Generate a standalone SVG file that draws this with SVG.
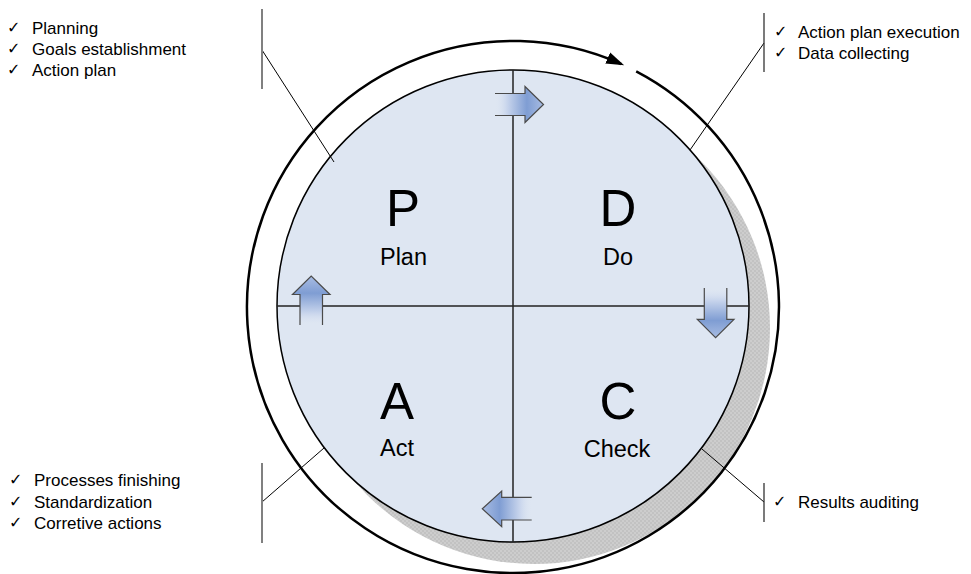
<svg xmlns="http://www.w3.org/2000/svg" width="971" height="574" viewBox="0 0 971 574">
<style>
.lbl{font-family:"Liberation Sans",Arial,sans-serif;font-size:17px;fill:#000}
.chk{font-family:"DejaVu Sans",sans-serif;font-size:16px;fill:#000}
.big{font-family:"Liberation Sans",Arial,sans-serif;font-size:51px;fill:#000;text-anchor:middle}
.sub{font-family:"Liberation Sans",Arial,sans-serif;font-size:23.5px;fill:#000;text-anchor:middle}
.cross{stroke:#222;stroke-width:1.5;fill:none}
.lead{stroke:#000;stroke-width:1;fill:none}
.barL{stroke:#808080;stroke-width:2;fill:none}
.barR{stroke:#333;stroke-width:1.3;fill:none}
.aout{stroke:#4a4a4a;stroke-width:1.2;fill:none;stroke-linejoin:miter}
</style>
<defs>
<pattern id="chkpat" width="4" height="4" patternUnits="userSpaceOnUse">
<rect width="4" height="4" fill="#cdcdcd"/>
<rect width="2" height="2" fill="#c2c2c2"/>
<rect x="2" y="2" width="2" height="2" fill="#c2c2c2"/>
</pattern>
<clipPath id="outerClip"><circle cx="513" cy="307" r="266"/></clipPath>
<linearGradient id="gR" x1="495" y1="0" x2="544" y2="0" gradientUnits="userSpaceOnUse">
<stop offset="0" stop-color="#dee6f2" stop-opacity="0"/>
<stop offset="0.25" stop-color="#c7d4ec"/>
<stop offset="0.65" stop-color="#7f9dd3"/>
<stop offset="1" stop-color="#a9bde3"/>
</linearGradient>
<linearGradient id="gU" x1="0" y1="325" x2="0" y2="276" gradientUnits="userSpaceOnUse">
<stop offset="0" stop-color="#dee6f2" stop-opacity="0"/>
<stop offset="0.25" stop-color="#c7d4ec"/>
<stop offset="0.65" stop-color="#7f9dd3"/>
<stop offset="1" stop-color="#a9bde3"/>
</linearGradient>
<linearGradient id="gD" x1="0" y1="288" x2="0" y2="338" gradientUnits="userSpaceOnUse">
<stop offset="0" stop-color="#dee6f2" stop-opacity="0"/>
<stop offset="0.25" stop-color="#c7d4ec"/>
<stop offset="0.65" stop-color="#7f9dd3"/>
<stop offset="1" stop-color="#a9bde3"/>
</linearGradient>
<linearGradient id="gL" x1="532" y1="0" x2="482" y2="0" gradientUnits="userSpaceOnUse">
<stop offset="0" stop-color="#dee6f2" stop-opacity="0"/>
<stop offset="0.25" stop-color="#c7d4ec"/>
<stop offset="0.65" stop-color="#7f9dd3"/>
<stop offset="1" stop-color="#a9bde3"/>
</linearGradient>
<marker id="ah" markerUnits="userSpaceOnUse" markerWidth="20" markerHeight="14" viewBox="0 0 20 14" refX="15" refY="7" orient="auto">
<path d="M0,1 L18,7 L0,13 Z" fill="#000"/>
</marker>
</defs>
<rect width="971" height="574" fill="#fff"/>

<g id="cycle">
<circle cx="534" cy="328" r="236" fill="url(#chkpat)" clip-path="url(#outerClip)"/>
<path d="M636.2,71.3 A266,266 0 0 1 466.8,569 A266,266 0 0 1 263,216 A266,266 0 0 1 621.4,64.1" fill="none" stroke="#000" stroke-width="2.5" marker-end="url(#ah)"/>
<circle cx="513" cy="306" r="236" fill="#dee6f2" stroke="#000" stroke-width="1.5"/>
</g>

<g id="connectors">
<line class="cross" x1="513" y1="70" x2="513" y2="542"/>
<line class="cross" x1="277" y1="306" x2="749" y2="306"/>
<line class="lead" x1="262" y1="50" x2="334" y2="162"/>
<line class="lead" x1="764" y1="43" x2="690" y2="150"/>
<line class="lead" x1="262" y1="502" x2="324" y2="448"/>
<line class="lead" x1="764" y1="502" x2="702" y2="449"/>
<line class="barL" x1="262" y1="9" x2="262" y2="89"/>
<line class="barR" x1="764" y1="13" x2="764" y2="72"/>
<line class="barL" x1="262" y1="463" x2="262" y2="543"/>
<line class="barR" x1="764" y1="483" x2="764" y2="522"/>
</g>

<g id="arrow-right">
<path d="M495,93.5 L525,93.5 L525,86.5 L543.5,104.5 L525,122.5 L525,115.5 L495,115.5 Z" fill="url(#gR)"/>
<path class="aout" d="M495,93.5 L525,93.5 L525,86.5 L543.5,104.5 L525,122.5 L525,115.5 L495,115.5"/>
</g>
<g id="arrow-up">
<path d="M300,325 L300,294.5 L292.5,294.5 L311.2,276 L330,294.5 L322.5,294.5 L322.5,325 Z" fill="url(#gU)"/>
<path class="aout" d="M300,325 L300,294.5 L292.5,294.5 L311.2,276 L330,294.5 L322.5,294.5 L322.5,325"/>
</g>
<g id="arrow-down">
<path d="M704.3,288 L704.3,319.3 L697.3,319.3 L715.6,337.7 L734,319.3 L726.8,319.3 L726.8,288 Z" fill="url(#gD)"/>
<path class="aout" d="M704.3,288 L704.3,319.3 L697.3,319.3 L715.6,337.7 L734,319.3 L726.8,319.3 L726.8,288"/>
</g>
<g id="arrow-left">
<path d="M531.7,497.3 L501.7,497.3 L501.7,491 L482.3,508.8 L501.7,526.7 L501.7,520 L531.7,520 Z" fill="url(#gL)"/>
<path class="aout" d="M531.7,497.3 L501.7,497.3 L501.7,491 L482.3,508.8 L501.7,526.7 L501.7,520 L531.7,520"/>
</g>

<g id="plan">
<text class="big" x="403" y="226">P</text>
<text class="sub" x="403.5" y="265">Plan</text>
</g>
<g id="do">
<text class="big" x="618" y="226">D</text>
<text class="sub" x="618" y="265">Do</text>
</g>
<g id="act">
<text class="big" x="397" y="418.5">A</text>
<text class="sub" x="397" y="456">Act</text>
</g>
<g id="check">
<text class="big" x="618" y="419">C</text>
<text class="sub" x="617" y="456.5">Check</text>
</g>

<g id="notes-plan">
<text class="chk" x="7" y="33">✓</text><text class="lbl" x="32" y="34">Planning</text>
<text class="chk" x="7" y="54">✓</text><text class="lbl" x="32" y="55">Goals establishment</text>
<text class="chk" x="7" y="75">✓</text><text class="lbl" x="32" y="76">Action plan</text>
</g>
<g id="notes-do">
<text class="chk" x="774" y="36.5">✓</text><text class="lbl" x="798" y="37.5">Action plan execution</text>
<text class="chk" x="774" y="57.5">✓</text><text class="lbl" x="798" y="58.5">Data collecting</text>
</g>
<g id="notes-act">
<text class="chk" x="9" y="485">✓</text><text class="lbl" x="34" y="486">Processes finishing</text>
<text class="chk" x="9" y="506.5">✓</text><text class="lbl" x="34" y="507.5">Standardization</text>
<text class="chk" x="9" y="527.5">✓</text><text class="lbl" x="34" y="528.5">Corretive actions</text>
</g>
<g id="notes-check">
<text class="chk" x="773" y="507">✓</text><text class="lbl" x="798" y="508">Results auditing</text>
</g>
</svg>
